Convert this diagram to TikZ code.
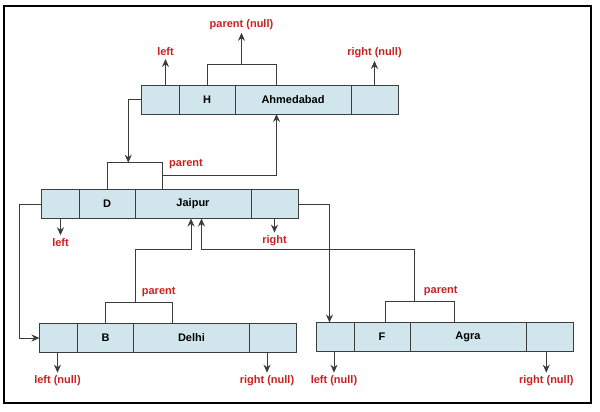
\documentclass[tikz,border=0pt]{standalone}
\usepackage{fontspec}
\setmainfont{Liberation Sans}
\usepackage{tikz}
\usetikzlibrary{positioning,arrows.meta}

\definecolor{boxblue}{HTML}{D0E6EC}
\definecolor{linegray}{HTML}{3C3C3C}
\definecolor{lblred}{HTML}{CC1F1F}

% one tree node: left | key | value | right
\newcommand{\record}[5]{%
	\node [cell, minimum width=38pt, anchor=north west] (#1left) at (#2,#3) {};
	\node [cell, minimum width=56pt, right=0pt of #1left] (#1key) {#4};
	\node [cell, minimum width=116pt, right=0pt of #1key] (#1val) {#5};
	\node [cell, minimum width=47pt, right=0pt of #1val] (#1right) {};
}

\begin{document}
\begin{tikzpicture}[x=1pt,y=-1pt,
		cell/.style={draw=linegray, fill=boxblue, line width=0.9pt, minimum height=29pt, inner sep=0pt, outer sep=0pt, font=\bfseries\fontsize{11}{13}\selectfont},
		lbl/.style={text=lblred, inner sep=3pt, font=\bfseries\fontsize{11}{13}\selectfont},
		link/.style={draw=linegray, line width=0.9pt},
		ptr/.style={link, -{Stealth[length=8pt,width=7pt]}}]
		\useasboundingbox (0,0) rectangle (600,412);
		\draw [line width=2pt] (4,6) rectangle (591,403);

		\record{H}{141}{85}{H}{Ahmedabad}
		\record{D}{41}{189.5}{D}{Jaipur}
		\record{B}{39.5}{323.5}{B}{Delhi}
		\record{F}{316}{322.5}{F}{Agra}

		% labels
		\node [lbl] (Hlefttxt) at (165.5,51.7) {left};
		\node [lbl] (Hpartxt) at (241.5,24.5) {parent (null)};
		\node [lbl] (Hrighttxt) at (374.5,52.5) {right (null)};
		\node [lbl] (Dlefttxt) at (60.5,242.5) {left};
		\node [lbl] (Drighttxt) at (274.5,241) {right};
		\node [lbl] (Dpartxt) at (186,164) {parent};
		\node [lbl] (Blefttxt) at (57.5,381) {left (null)};
		\node [lbl] (Brighttxt) at (267,381) {right (null)};
		\node [lbl] (Bpartxt) at (158.7,292.5) {parent};
		\node [lbl] (Flefttxt) at (334,381) {left (null)};
		\node [lbl] (Frighttxt) at (546.3,381) {right (null)};
		\node [lbl] (Fpartxt) at (440.8,291) {parent};

		\coordinate (Hbr) at (241.5,64.5);
		\coordinate (Dbr) at (128.3,162.7);
		\coordinate (Dbrr) at (162.3,175.7);
		\coordinate (Bbr) at (135,302.5);
		\coordinate (Fbr) at (414.3,301.3);

		% parent brackets
		\draw [link] (Hkey.north) |- (Hbr) -| ([xshift=41pt]Hval.north west);
		\draw [link] (Dkey.north) |- (Dbr) -| ([xshift=27.3pt]Dval.north west);
		\draw [link] (Bkey.north) |- (Bbr) -| ([xshift=39pt]Bval.north west);
		\draw [link] ([xshift=3pt]Fkey.north) |- (Fbr) -| ([xshift=44.4pt]Fval.north west);

		% null / free pointers
		\draw [ptr] (Hleft.north -| Hlefttxt) -- (Hlefttxt.south);
		\draw [ptr] (Hbr) -- (Hpartxt.south);
		\draw [ptr] (Hright.north -| Hrighttxt) -- (Hrighttxt.south);
		\draw [ptr] (Dleft.south -| Dlefttxt) -- (Dlefttxt.north);
		\draw [ptr] (Dright.south -| Drighttxt) -- (Drighttxt.north);
		\draw [ptr] (Bleft.south -| Blefttxt) -- (Blefttxt.north);
		\draw [ptr] (Bright.south -| Brighttxt) -- (Brighttxt.north);
		\draw [ptr] (Fleft.south -| Flefttxt) -- (Flefttxt.north);
		\draw [ptr] (Fright.south -| Frighttxt) -- (Frighttxt.north);

		% child and parent links
		\draw [ptr] (Hleft.west) -| (Dbr);
		\draw [ptr] (Dbrr) -| ([xshift=41.5pt]Hval.south west);
		\draw [ptr] (Dleft.west) -- ++(-22,0) |- (Bleft.west);
		\draw [ptr] (Dright.east) -| ([xshift=13.5pt]Fleft.north west);
		\draw [ptr] (Bbr) -- ++(0,-53) -| ([xshift=56pt]Dval.south west);
		\draw [ptr] (Fbr) -- ++(0,-52) -| ([xshift=66.5pt]Dval.south west);
	\end{tikzpicture}
\end{document}
